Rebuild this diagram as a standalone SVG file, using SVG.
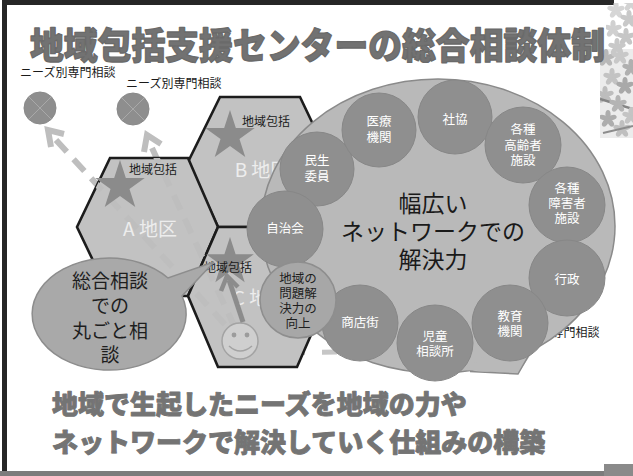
<svg xmlns="http://www.w3.org/2000/svg" width="633" height="476" viewBox="0 0 633 476">
<defs>
<style>
text{font-family:"Noto Sans CJK JP","Noto Sans CJK SC",sans-serif}
.title{font-size:36px;font-weight:900;fill:#727272;stroke:#6a6a6a;stroke-width:1.3;stroke-linejoin:round}
.foot{font-size:26px;font-weight:900;fill:#747474;stroke:#747474;stroke-width:0.9;stroke-linejoin:round}
.lbl{font-size:12px;fill:#1a1a1a}
.hex{fill:#c2c2c2;stroke:#1c1c1c;stroke-width:2.6;stroke-linejoin:miter}
.area{font-size:19px;fill:#ededed;text-anchor:middle}
.star{fill:#8b8b8b}
.net{fill:#8f8f8f;stroke:#878787;stroke-width:1}
.nt{font-size:12.5px;fill:#fff;text-anchor:middle}
.dash{fill:none;stroke:#bebebe;stroke-width:6;stroke-dasharray:16 10}
.head{fill:none;stroke:#bebebe;stroke-width:6}
.need{fill:#8e8e8e;stroke:#8a8a8a;stroke-width:1}
.cross{stroke:#a9a9a9;stroke-width:1}
</style>
<polygon id="star" points="0,-1 0.2245,-0.309 0.951,-0.309 0.3633,0.118 0.5878,0.809 0,0.382 -0.5878,0.809 -0.3633,0.118 -0.951,-0.309 -0.2245,-0.309"/>
<g id="flower">
<ellipse cx="0" cy="-4.5" rx="2.6" ry="4.5"/>
<ellipse cx="0" cy="-4.5" rx="2.6" ry="4.5" transform="rotate(72)"/>
<ellipse cx="0" cy="-4.5" rx="2.6" ry="4.5" transform="rotate(144)"/>
<ellipse cx="0" cy="-4.5" rx="2.6" ry="4.5" transform="rotate(216)"/>
<ellipse cx="0" cy="-4.5" rx="2.6" ry="4.5" transform="rotate(288)"/>
</g>
<clipPath id="hexclip">
<polygon points="110,158 188,158 218,227 188,296 110,296 77,227"/>
<polygon points="220,97 300,97 331,162 300,227 218,227 188,162"/>
<polygon points="218,227 297,227 328,296 297,367 218,367 188,296"/>
</clipPath>
<clipPath id="floralclip">
<rect x="606" y="3" width="27" height="46"/>
<rect x="600" y="49" width="33" height="89"/>
</clipPath>
</defs>

<!-- page -->
<rect width="633" height="476" fill="#fff"/>
<rect x="2" y="0" width="612" height="5" fill="#262626"/>
<rect x="2" y="0" width="5" height="472" fill="#262626"/>
<rect x="0" y="471" width="633" height="5" fill="#7c7c7c"/>
<rect x="604" y="464" width="29" height="12" fill="#8a8a8a"/>

<!-- floral corner ornament -->
<g clip-path="url(#floralclip)">
<rect x="600" y="49" width="33" height="89" fill="#ececec"/>
<use href="#flower" transform="translate(616,10)" fill="#d6d6d6"/>
<use href="#flower" transform="translate(629,19)" fill="#c9c9c9"/>
<use href="#flower" transform="translate(613,29)" fill="#d0d0d0"/>
<use href="#flower" transform="translate(626,37)" fill="#c6c6c6"/>
<use href="#flower" transform="translate(631,3)" fill="#d3d3d3"/>
<use href="#flower" transform="translate(617,47)" fill="#c8c8c8"/>
<use href="#flower" transform="translate(606,58)" fill="#b8b8b8"/>
<use href="#flower" transform="translate(620,56)" fill="#c8c8c8"/>
<use href="#flower" transform="translate(631,68)" fill="#b0b0b0"/>
<use href="#flower" transform="translate(612,77)" fill="#c3c3c3"/>
<use href="#flower" transform="translate(625,86)" fill="#a9a9a9"/>
<use href="#flower" transform="translate(605,95)" fill="#bdbdbd"/>
<path d="M600,99 L633,109" stroke="#858585" stroke-width="2.5"/>
<use href="#flower" transform="translate(618,104)" fill="#b4b4b4"/>
<use href="#flower" transform="translate(631,116)" fill="#c4c4c4"/>
<use href="#flower" transform="translate(608,119)" fill="#adadad"/>
<use href="#flower" transform="translate(622,129)" fill="#bfbfbf"/>
<path d="M603,133 L633,126" stroke="#8c8c8c" stroke-width="2"/>
</g>

<!-- heading -->
<text class="title" x="30" y="59" textLength="575" lengthAdjust="spacingAndGlyphs">地域包括支援センターの総合相談体制</text>

<!-- specialist consultation points -->
<g id="need-1">
<text class="lbl" x="20" y="77">ニーズ別専門相談</text>
<circle class="need" cx="40" cy="108" r="16"/>
<path class="cross" d="M29,97 L51,119 M51,97 L29,119"/>
</g>
<g id="need-2">
<text class="lbl" x="126" y="88">ニーズ別専門相談</text>
<circle class="need" cx="133" cy="109" r="16"/>
<path class="cross" d="M122,98 L144,120 M144,98 L122,120"/>
</g>
<g id="need-3">
<text class="lbl" x="504" y="337">ニーズ別専門相談</text>
</g>

<!-- referral routes beneath the districts -->
<g id="connectors">
<path class="dash" d="M56,140 L230,330"/>
<path class="head" d="M64,134 L48,130 L51,147"/>
<path class="dash" d="M152,148 L236,330"/>
<path class="head" d="M161,144 L147,135 L144,152"/>
<path d="M258,353 L345,352" fill="none" stroke="#c6c6c6" stroke-width="5" stroke-dasharray="15 17"/>
</g>

<!-- districts -->
<g id="district-b">
<polygon class="hex" points="220,97 300,97 331,162 300,227 218,227 188,162"/>
</g>
<g id="district-a">
<polygon class="hex" points="110,158 188,158 218,227 188,296 110,296 77,227"/>
</g>
<g id="district-c">
<polygon class="hex" points="218,227 297,227 328,296 297,367 218,367 188,296"/>
</g>
<g clip-path="url(#hexclip)">
<path class="dash" d="M56,140 L230,330" stroke="#d3d3d3"/>
<path class="dash" d="M152,148 L236,330" stroke="#d3d3d3"/>
</g>

<g id="center-a">
<use href="#star" class="star" transform="translate(120,186) scale(26)"/>
<text class="lbl" x="129" y="174">地域包括</text>
<text class="area" x="150" y="236">A 地区</text>
</g>
<g id="center-b">
<use href="#star" class="star" transform="translate(230,136) scale(26)"/>
<text class="lbl" x="242" y="126">地域包括</text>
<text class="area" x="262" y="177">B 地区</text>
</g>
<g id="center-c">
<use href="#star" class="star" transform="translate(230,262) scale(25)"/>
<text class="area" x="260" y="305">C 地区</text>
<text class="lbl" x="204" y="272">地域包括</text>
</g>

<!-- one-stop consultation callout -->
<g id="bubble">
<path d="M182,296 A77,56 0 1 1 168,278 L214,262 Z" fill="#a9a9a9" stroke="#8d8d8d" stroke-width="1.5"/>
<g font-size="19" fill="#1e1e1e" text-anchor="middle">
<text x="110" y="288">総合相談</text>
<text x="110" y="313">での</text>
<text x="110" y="338">丸ごと相</text>
<text x="110" y="362">談</text>
</g>
</g>

<!-- resident -->
<g id="resident">
<circle cx="240" cy="341" r="18" fill="#cfcfcf" stroke="#a3a3a3" stroke-width="1.5"/>
<circle cx="234" cy="335" r="2.4" fill="#9c9c9c"/>
<circle cx="247" cy="335" r="2.4" fill="#9c9c9c"/>
<path d="M229,346 Q240,356 252,346" fill="none" stroke="#a3a3a3" stroke-width="1.5"/>
</g>
<g id="connectors-top">
<path d="M243,322 L229,280" stroke="#8c8c8c" stroke-width="5" fill="none"/>
<path d="M221,291 L227,276 L238,287" stroke="#8c8c8c" stroke-width="4.5" fill="none"/>
</g>

<!-- network -->
<g id="network">
<ellipse cx="438" cy="226" rx="177" ry="147" fill="#b9b9b9" stroke="#8a8a8a" stroke-width="1.5"/>
<polygon points="465,370 518,374 535,348 500,345" fill="#b9b9b9"/>
<path d="M470,371.5 L518,374 L534,346" fill="none" stroke="#8a8a8a" stroke-width="1.5"/>
<g font-size="23" fill="#1a1a1a" text-anchor="middle">
<text x="433" y="212">幅広い</text>
<text x="433" y="240">ネットワークでの</text>
<text x="433" y="268">解決力</text>
</g>
</g>

<g id="node-minsei"><circle class="net" cx="317" cy="169" r="37"/><text class="nt" x="317" y="165">民生</text><text class="nt" x="317" y="181">委員</text></g>
<g id="node-iryo"><circle class="net" cx="379" cy="130" r="37"/><text class="nt" x="379" y="126">医療</text><text class="nt" x="379" y="142">機関</text></g>
<g id="node-shakyo"><circle class="net" cx="455" cy="117" r="37"/><text class="nt" x="455" y="124">社協</text></g>
<g id="node-korei"><circle class="net" cx="523" cy="145" r="38"/><text class="nt" x="523" y="134">各種</text><text class="nt" x="523" y="150">高齢者</text><text class="nt" x="523" y="165">施設</text></g>
<g id="node-shogai"><circle class="net" cx="567" cy="205" r="38"/><text class="nt" x="567" y="193">各種</text><text class="nt" x="567" y="208">障害者</text><text class="nt" x="567" y="223">施設</text></g>
<g id="node-gyosei"><circle class="net" cx="567" cy="278" r="38"/><text class="nt" x="567" y="284">行政</text></g>
<g id="node-kyoiku"><circle class="net" cx="510" cy="323" r="38"/><text class="nt" x="510" y="321">教育</text><text class="nt" x="510" y="336">機関</text></g>
<g id="node-jido"><circle class="net" cx="435" cy="343" r="38"/><text class="nt" x="435" y="341">児童</text><text class="nt" x="435" y="356">相談所</text></g>
<g id="node-shotengai"><circle class="net" cx="360" cy="323" r="38"/><text class="nt" x="360" y="327">商店街</text></g>
<g id="node-jichikai"><circle class="net" cx="285" cy="229" r="38"/><text class="nt" x="285" y="233">自治会</text></g>

<g id="node-kojo">
<circle cx="298" cy="300" r="38" fill="#a7a7a7" stroke="#8e8e8e" stroke-width="1.5"/>
<g font-size="12.5" fill="#1e1e1e" text-anchor="middle">
<text x="298" y="283">地域の</text>
<text x="298" y="298">問題解</text>
<text x="298" y="313">決力の</text>
<text x="298" y="328">向上</text>
</g>
</g>

<!-- closing statement -->
<text class="foot" x="52" y="414">地域で生起したニーズを地域の力や</text>
<text class="foot" x="52" y="452">ネットワークで解決していく仕組みの構築</text>
</svg>
